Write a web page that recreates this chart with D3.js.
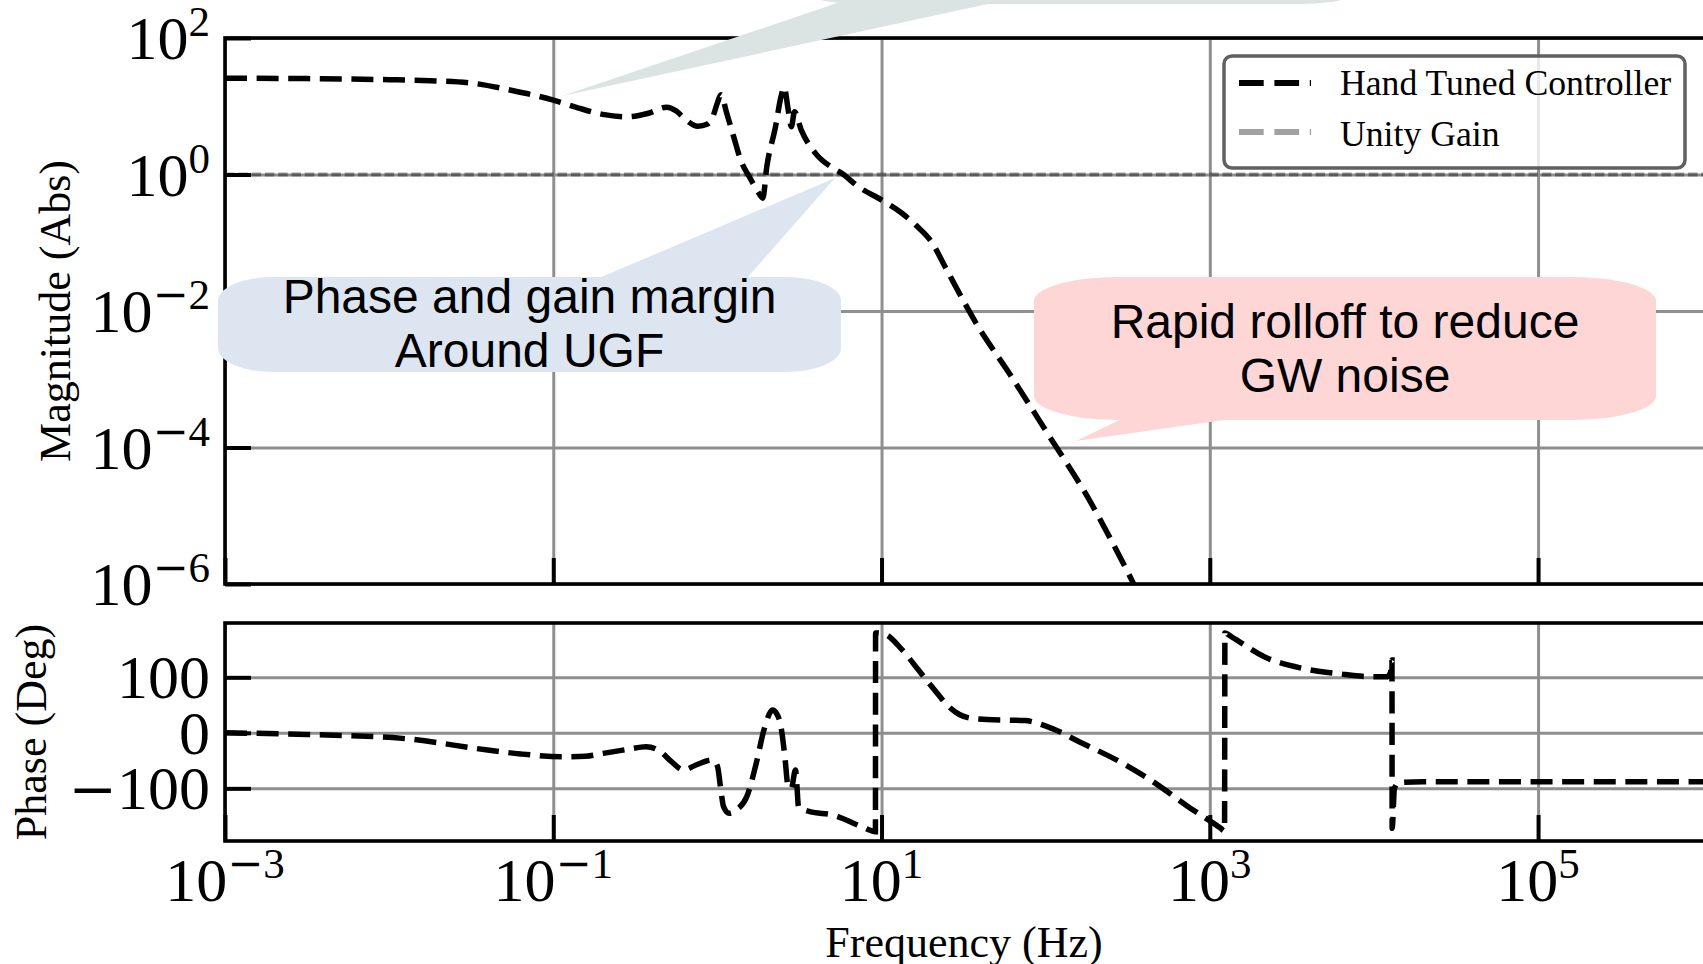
<!DOCTYPE html>
<html>
<head>
<meta charset="utf-8">
<script src="https://cdn.jsdelivr.net/npm/d3@7/dist/d3.min.js"></script>
<style>
  html, body { margin: 0; padding: 0; background: #ffffff; overflow: hidden; }
  svg { display: block; }
</style>
</head>
<body>
<svg id="bode" width="1703" height="964"></svg>
<script>
// Bode plot of the hand-tuned loop controller: magnitude (top) and phase (bottom)

// Magnitude response |C(f)|
const magFreqHz = [0.001, 0.00316, 0.01, 0.0178, 0.0316, 0.0562, 0.1, 0.141, 0.2, 0.282,
  0.38, 0.49, 0.562, 0.631, 0.759, 0.871, 0.933, 1.0, 1.05, 1.14,
  1.26, 1.39, 1.58, 1.78, 1.89, 2.0, 2.26, 2.44, 2.55, 2.70,
  2.82, 2.95, 3.24, 3.96, 5.01, 5.70, 7.24, 10.1, 13.2, 16.2,
  20.4, 24.3, 38.5, 60.7, 103.5, 176, 324, 501, 1000];
const magAbs = [25.7, 25.4, 24.5, 23.7, 21.9, 17.0, 12.3, 9.5, 7.6, 7.0,
  7.9, 9.7, 8.5, 6.6, 5.1, 5.5, 6.8, 11.2, 14.8, 7.9,
  3.5, 1.6, 0.89, 0.54, 0.45, 1.3, 5.0, 13.8, 19.0, 8.9,
  5.0, 8.3, 4.5, 2.04, 1.26, 1.05, 0.66, 0.417, 0.275, 0.18,
  0.0985, 0.0452, 0.00608, 0.00117, 1.56e-4, 2.07e-5, 1.33e-6, 1.6e-7, 2.0e-8];

// Phase response, wrapped to +/-180 degrees
const phaseFreqHz = [0.001, 0.00316, 0.012, 0.0398, 0.0631, 0.1146, 0.158, 0.201, 0.282, 0.368,
  0.45, 0.525, 0.621, 0.741, 0.929, 1.0, 1.047, 1.09, 1.18, 1.32,
  1.51, 1.74, 1.92, 2.17, 2.29, 2.44, 2.57, 2.70, 2.82, 2.99,
  3.05, 3.12, 3.66, 5.06, 7.55, 9.18, 9.20, 10.2, 13.4, 16.8,
  21.9, 25.1, 29.8, 35.5, 43.7, 74.5, 109, 160, 295, 467,
  738, 1167, 1230, 1236, 1358, 2148, 3673, 6266, 10000, 12020,
  12590, 12880, 12910, 13340, 14130, 19950, 1.26e6];
const phaseDeg = [0, -3, -10, -31, -38, -43, -42, -37, -30, -25,
  -34, -52, -67, -58, -49, -60, -100, -133, -145, -138,
  -115, -50, 5, 41, 35, 11, -40, -97, -100, -67,
  -95, -133, -142, -148, -169, -178, 180, 179, 149, 113,
  71, 50, 33, 26, 24, 22, 8, -16, -55, -91,
  -133, -172, -177, 180, 173, 137, 116, 106, 101, 101,
  108, 131, -172, -100, -90, -88, -88];

// Ticks
const freqTicks = [1e-3, 1e-1, 1e1, 1e3, 1e5];
const freqTickExponents = ["\u22123", "\u22121", "1", "3", "5"];
const magTicks = [1e2, 1e0, 1e-2, 1e-4, 1e-6];
const magTickExponents = ["2", "0", "\u22122", "\u22124", "\u22126"];
const phaseTicks = [100, 0, -100];
const phaseTickLabels = ["100", "0", "\u2212100"];

const unityGain = 1;
const legendLabels = ["Hand Tuned Controller", "Unity Gain"];

// Callout annotations (anchor points in data units)
const calloutAnchors = [
  { f: 0.113, m: 14.1 },
  { f: 5.21, m: 0.889 },
  { f: 153, m: 1.245e-4 }
];
const calloutLines = [
  [],
  ["Phase and gain margin", "Around UGF"],
  ["Rapid rolloff to reduce", "GW noise"]
];

// ---------------------------------------------------------------------------
const serif = "'Liberation Serif', 'Times New Roman', serif";
const mathSerif = "'DejaVu Serif', serif";
const sans = "'Liberation Sans', Arial, sans-serif";
const gridColor = "#8f8f8f";

const plotLeft = 225, plotRight = 1714;
const magTop = 38, magBottom = 584;
const phTop = 623, phBottom = 841;

const svg = d3.select("#bode");

const x = d3.scaleLog().domain([1e-3, 1.18e6]).range([plotLeft, plotRight]);
const yMag = d3.scaleLog().domain([1e-6, 1e2]).range([magBottom, magTop]);
const yPh = d3.scaleLinear().domain([-194.85, 197.85]).range([phBottom, phTop]);

const defs = svg.append("defs");
defs.append("clipPath").attr("id", "clip-mag")
  .append("rect").attr("x", plotLeft).attr("y", magTop)
  .attr("width", plotRight - plotLeft).attr("height", magBottom - magTop);
defs.append("clipPath").attr("id", "clip-ph")
  .append("rect").attr("x", plotLeft).attr("y", phTop)
  .attr("width", plotRight - plotLeft).attr("height", phBottom - phTop);

// writes a string, setting any leading minus sign in the wider math glyph
function signedRun(text, str, size, dy, minusSize) {
  let first = true;
  const put = (s, fam, sz) => {
    const t = text.append("tspan").text(s);
    if (fam) t.attr("font-family", fam);
    if (sz) t.attr("font-size", sz);
    if (first && dy) t.attr("dy", dy);
    first = false;
  };
  if (str.startsWith("\u2212")) {
    put("\u2212", mathSerif, minusSize || size);
    if (str.length > 1) put(str.slice(1), null, size);
  } else {
    put(str, null, size);
  }
}

function powerLabel(text, exp) {
  text.append("tspan").text("10");
  signedRun(text, exp, 43, -23, 43);
}

function drawGrid(g, yScale, yTicks, top, bottom) {
  g.append("g")
    .attr("transform", `translate(0,${bottom})`)
    .call(d3.axisBottom(x).tickValues(freqTicks).tickSize(-(bottom - top)).tickFormat(""))
    .call(s => {
      s.select(".domain").remove();
      s.selectAll("line").attr("stroke", gridColor).attr("stroke-width", 3);
    });
  g.append("g")
    .attr("transform", `translate(${plotLeft},0)`)
    .call(d3.axisLeft(yScale).tickValues(yTicks).tickSize(-(plotRight - plotLeft)).tickFormat(""))
    .call(s => {
      s.select(".domain").remove();
      s.selectAll("line").attr("stroke", gridColor).attr("stroke-width", 3);
    });
}

function drawFrame(g, yScale, yTicks, top, bottom) {
  g.append("g")
    .attr("transform", `translate(0,${bottom})`)
    .call(d3.axisBottom(x).tickValues(freqTicks).tickSizeInner(-26).tickSizeOuter(0).tickFormat(""))
    .call(s => {
      s.select(".domain").remove();
      s.selectAll("line").attr("stroke", "#000").attr("stroke-width", 4);
    });
  g.append("g")
    .attr("transform", `translate(${plotLeft},0)`)
    .call(d3.axisLeft(yScale).tickValues(yTicks).tickSizeInner(-26).tickSizeOuter(0).tickFormat(""))
    .call(s => {
      s.select(".domain").remove();
      s.selectAll("line").attr("stroke", "#000").attr("stroke-width", 4);
    });
  g.append("rect")
    .attr("x", plotLeft).attr("y", top)
    .attr("width", plotRight - plotLeft).attr("height", bottom - top)
    .attr("fill", "none").attr("stroke", "#000").attr("stroke-width", 3.6);
}

const curveStyle = sel => sel
  .attr("fill", "none")
  .attr("stroke", "#000")
  .attr("stroke-width", 5.5)
  .attr("stroke-dasharray", "22,9.6");

// ---------------- Magnitude panel ----------------
const gMag = svg.append("g");
drawGrid(gMag, yMag, magTicks, magTop, magBottom);

// unity gain reference
gMag.append("line")
  .attr("x1", plotLeft).attr("x2", plotRight)
  .attr("y1", yMag(unityGain)).attr("y2", yMag(unityGain))
  .attr("stroke", "#000").attr("stroke-opacity", 0.37)
  .attr("stroke-width", 4).attr("stroke-dasharray", "9.5,3.8");

const magPoints = magFreqHz.map((f, i) => [f, magAbs[i]]);
const magLine = d3.line()
  .x(d => x(d[0]))
  .y(d => yMag(d[1]))
  .curve(d3.curveMonotoneX);
gMag.append("path")
  .attr("clip-path", "url(#clip-mag)")
  .attr("d", magLine(magPoints))
  .call(curveStyle);

drawFrame(gMag, yMag, magTicks, magTop, magBottom);

gMag.append("g").selectAll("text")
  .data(magTicks)
  .join("text")
  .attr("x", 210)
  .attr("y", d => yMag(d) + 21)
  .attr("text-anchor", "end")
  .attr("font-family", serif)
  .attr("font-size", 62)
  .each(function (d, i) { powerLabel(d3.select(this), magTickExponents[i]); });

svg.append("text")
  .attr("transform", `translate(70,${(magTop + magBottom) / 2}) rotate(-90)`)
  .attr("text-anchor", "middle")
  .attr("font-family", serif)
  .attr("font-size", 44)
  .text("Magnitude (Abs)");

// ---------------- Phase panel ----------------
const gPh = svg.append("g");
drawGrid(gPh, yPh, phaseTicks, phTop, phBottom);

const phPoints = phaseFreqHz.map((f, i) => [f, phaseDeg[i]]);
const phLine = d3.line()
  .x(d => x(d[0]))
  .y(d => yPh(d[1]))
  .curve(d3.curveMonotoneX);
gPh.append("path")
  .attr("clip-path", "url(#clip-ph)")
  .attr("d", phLine(phPoints))
  .call(curveStyle);

drawFrame(gPh, yPh, phaseTicks, phTop, phBottom);

gPh.append("g").selectAll("text")
  .data(phaseTicks)
  .join("text")
  .attr("x", 210)
  .attr("y", d => yPh(d) + 21)
  .attr("text-anchor", "end")
  .attr("font-family", serif)
  .attr("font-size", 62)
  .each(function (d, i) { signedRun(d3.select(this), phaseTickLabels[i], null, null, 58); });

gPh.append("g").selectAll("text")
  .data(freqTicks)
  .join("text")
  .attr("x", d => x(d))
  .attr("y", 901)
  .attr("text-anchor", "middle")
  .attr("font-family", serif)
  .attr("font-size", 62)
  .each(function (d, i) { powerLabel(d3.select(this), freqTickExponents[i]); });

svg.append("text")
  .attr("transform", `translate(46,${(phTop + phBottom) / 2}) rotate(-90)`)
  .attr("text-anchor", "middle")
  .attr("font-family", serif)
  .attr("font-size", 44)
  .text("Phase (Deg)");

svg.append("text")
  .attr("x", (plotLeft + 1703) / 2)
  .attr("y", 957)
  .attr("text-anchor", "middle")
  .attr("font-family", serif)
  .attr("font-size", 44)
  .text("Frequency (Hz)");

// ---------------- Legend ----------------
const legend = svg.append("g");
legend.append("rect")
  .attr("x", 1224).attr("y", 56).attr("width", 461).attr("height", 112)
  .attr("rx", 8).attr("ry", 8)
  .attr("fill", "#fff").attr("fill-opacity", 0.8)
  .attr("stroke", "#606060").attr("stroke-width", 3.5);

const legendRows = legend.selectAll("g.row")
  .data(legendLabels)
  .join("g")
  .attr("class", "row");
legendRows.append("line")
  .attr("x1", 1239).attr("x2", 1311)
  .attr("y1", (d, i) => 83 + i * 49).attr("y2", (d, i) => 83 + i * 49)
  .attr("stroke", "#000")
  .attr("stroke-opacity", (d, i) => i === 0 ? 1 : 0.37)
  .attr("stroke-width", 6)
  .attr("stroke-dasharray", "24.7,10.7");
legendRows.append("text")
  .attr("x", 1340).attr("y", (d, i) => 95 + i * 51)
  .attr("font-family", serif)
  .attr("font-size", 35.7)
  .text(d => d);

// ---------------- Callouts ----------------
function roundedBox(x0, y0, x1, y1, rx, ry) {
  return `M${x0 + rx},${y0} H${x1 - rx} A${rx},${ry} 0 0 1 ${x1},${y0 + ry} ` +
    `V${y1 - ry} A${rx},${ry} 0 0 1 ${x1 - rx},${y1} H${x0 + rx} ` +
    `A${rx},${ry} 0 0 1 ${x0},${y1 - ry} V${y0 + ry} A${rx},${ry} 0 0 1 ${x0 + rx},${y0} Z`;
}

const calloutBoxes = [
  { box: [787, -80, 1375, 4], rx: 75, ry: 24, base: [858, 1025], baseY: -4, fill: "#dbe4e2", textY: 0 },
  { box: [218, 277, 841, 372], rx: 55, ry: 24, base: [580, 740], baseY: 286, fill: "#dde6f0", textY: 313 },
  { box: [1034, 277, 1656, 420], rx: 85, ry: 24, base: [1138, 1288], baseY: 411, fill: "#ffd6d6", textY: 338 }
];

const gCallouts = svg.append("g");
calloutBoxes.forEach((c, i) => {
  const [x0, y0, x1, y1] = c.box;
  const tip = calloutAnchors[i];
  const g = gCallouts.append("g");
  g.append("path").attr("d", roundedBox(x0, y0, x1, y1, c.rx, c.ry)).attr("fill", c.fill);
  g.append("path")
    .attr("d", `M${c.base[0]},${c.baseY} L${x(tip.f)},${yMag(tip.m)} L${c.base[1]},${c.baseY} Z`)
    .attr("fill", c.fill);
  g.selectAll("text")
    .data(calloutLines[i])
    .join("text")
    .attr("x", (x0 + x1) / 2)
    .attr("y", (d, j) => c.textY + j * 54)
    .attr("text-anchor", "middle")
    .attr("font-family", sans)
    .attr("font-size", 48)
    .attr("fill", "#000")
    .text(d => d);
});
</script>
</body>
</html>
